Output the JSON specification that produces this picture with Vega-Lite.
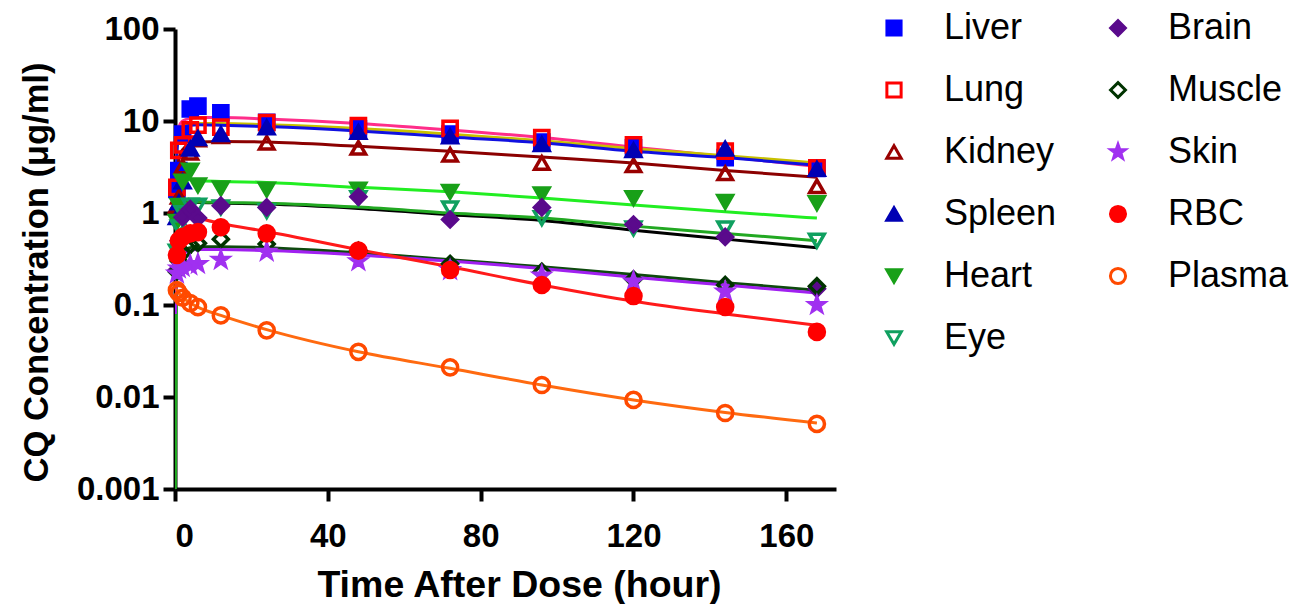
{
  "$schema": "https://vega.github.io/schema/vega-lite/v6.json",
  "autosize": "none",
  "width": 661,
  "height": 460,
  "padding": {"left": 175, "top": 29, "right": 454, "bottom": 115},
  "background": "white",
  "config": {
    "view": {"stroke": null},
    "axis": {
      "grid": false,
      "domainColor": "black",
      "domainWidth": 4,
      "tickColor": "black",
      "tickWidth": 4,
      "tickSize": 12,
      "labelFont": "Liberation Sans",
      "labelFontWeight": "bold",
      "labelFontSize": 33,
      "labelColor": "black",
      "titleFont": "Liberation Sans",
      "titleFontWeight": "bold",
      "titleColor": "black"
    },
    "legend": {
      "orient": "none",
      "legendX": 701,
      "legendY": -19,
      "columns": 2,
      "labelFont": "Liberation Sans",
      "labelFontSize": 36,
      "labelColor": "black",
      "rowPadding": 26,
      "columnPadding": 43,
      "labelOffset": 32,
      "symbolStrokeWidth": 3
    }
  },
  "datasets": {
    "fit": [
      {"curve": "Lung", "t": 0.1, "v": 1.5}, {"curve": "Lung", "t": 0.5, "v": 6}, {"curve": "Lung", "t": 1, "v": 8.5}, {"curve": "Lung", "t": 2, "v": 10}, {"curve": "Lung", "t": 4, "v": 10.7}, {"curve": "Lung", "t": 6, "v": 10.9}, {"curve": "Lung", "t": 12, "v": 10.9}, {"curve": "Lung", "t": 24, "v": 10.5}, {"curve": "Lung", "t": 48, "v": 9.4}, {"curve": "Lung", "t": 72, "v": 8.0}, {"curve": "Lung", "t": 96, "v": 6.6}, {"curve": "Lung", "t": 120, "v": 5.2}, {"curve": "Lung", "t": 144, "v": 4.1}, {"curve": "Lung", "t": 168, "v": 3.2},
      {"curve": "Spleen", "t": 0.1, "v": 1.2}, {"curve": "Spleen", "t": 0.5, "v": 5}, {"curve": "Spleen", "t": 1, "v": 7.5}, {"curve": "Spleen", "t": 2, "v": 8.8}, {"curve": "Spleen", "t": 4, "v": 9.3}, {"curve": "Spleen", "t": 6, "v": 9.4}, {"curve": "Spleen", "t": 12, "v": 9.4}, {"curve": "Spleen", "t": 24, "v": 9.1}, {"curve": "Spleen", "t": 48, "v": 8.3}, {"curve": "Spleen", "t": 72, "v": 7.2}, {"curve": "Spleen", "t": 96, "v": 6.1}, {"curve": "Spleen", "t": 120, "v": 5.0}, {"curve": "Spleen", "t": 144, "v": 4.2}, {"curve": "Spleen", "t": 168, "v": 3.5},
      {"curve": "Liver", "t": 0.1, "v": 1.0}, {"curve": "Liver", "t": 0.5, "v": 4.5}, {"curve": "Liver", "t": 1, "v": 7}, {"curve": "Liver", "t": 2, "v": 8.5}, {"curve": "Liver", "t": 4, "v": 9.0}, {"curve": "Liver", "t": 6, "v": 9.1}, {"curve": "Liver", "t": 12, "v": 9.0}, {"curve": "Liver", "t": 24, "v": 8.7}, {"curve": "Liver", "t": 48, "v": 7.8}, {"curve": "Liver", "t": 72, "v": 6.7}, {"curve": "Liver", "t": 96, "v": 5.8}, {"curve": "Liver", "t": 120, "v": 4.7}, {"curve": "Liver", "t": 144, "v": 4.0}, {"curve": "Liver", "t": 168, "v": 3.3},
      {"curve": "Kidney", "t": 0.1, "v": 0.5}, {"curve": "Kidney", "t": 0.5, "v": 2.5}, {"curve": "Kidney", "t": 1, "v": 3.8}, {"curve": "Kidney", "t": 2, "v": 4.9}, {"curve": "Kidney", "t": 4, "v": 5.6}, {"curve": "Kidney", "t": 6, "v": 5.9}, {"curve": "Kidney", "t": 12, "v": 6.0}, {"curve": "Kidney", "t": 24, "v": 5.9}, {"curve": "Kidney", "t": 48, "v": 5.3}, {"curve": "Kidney", "t": 72, "v": 4.7}, {"curve": "Kidney", "t": 96, "v": 4.05}, {"curve": "Kidney", "t": 120, "v": 3.5}, {"curve": "Kidney", "t": 144, "v": 2.9}, {"curve": "Kidney", "t": 168, "v": 2.45},
      {"curve": "Heart", "t": 0.02, "v": 0.001}, {"curve": "Heart", "t": 0.5, "v": 1.6}, {"curve": "Heart", "t": 1, "v": 2.1}, {"curve": "Heart", "t": 2, "v": 2.3}, {"curve": "Heart", "t": 4, "v": 2.3}, {"curve": "Heart", "t": 6, "v": 2.25}, {"curve": "Heart", "t": 12, "v": 2.2}, {"curve": "Heart", "t": 24, "v": 2.15}, {"curve": "Heart", "t": 48, "v": 1.9}, {"curve": "Heart", "t": 72, "v": 1.7}, {"curve": "Heart", "t": 96, "v": 1.46}, {"curve": "Heart", "t": 120, "v": 1.22}, {"curve": "Heart", "t": 144, "v": 1.03}, {"curve": "Heart", "t": 168, "v": 0.88},
      {"curve": "Brain", "t": 0.1, "v": 0.3}, {"curve": "Brain", "t": 0.5, "v": 0.85}, {"curve": "Brain", "t": 1, "v": 1.1}, {"curve": "Brain", "t": 2, "v": 1.25}, {"curve": "Brain", "t": 4, "v": 1.3}, {"curve": "Brain", "t": 6, "v": 1.3}, {"curve": "Brain", "t": 12, "v": 1.28}, {"curve": "Brain", "t": 24, "v": 1.25}, {"curve": "Brain", "t": 48, "v": 1.12}, {"curve": "Brain", "t": 72, "v": 0.96}, {"curve": "Brain", "t": 96, "v": 0.83}, {"curve": "Brain", "t": 120, "v": 0.65}, {"curve": "Brain", "t": 144, "v": 0.52}, {"curve": "Brain", "t": 168, "v": 0.42},
      {"curve": "Eye", "t": 0.02, "v": 0.001}, {"curve": "Eye", "t": 0.5, "v": 0.9}, {"curve": "Eye", "t": 1, "v": 1.15}, {"curve": "Eye", "t": 2, "v": 1.28}, {"curve": "Eye", "t": 4, "v": 1.32}, {"curve": "Eye", "t": 6, "v": 1.32}, {"curve": "Eye", "t": 12, "v": 1.3}, {"curve": "Eye", "t": 24, "v": 1.28}, {"curve": "Eye", "t": 48, "v": 1.16}, {"curve": "Eye", "t": 72, "v": 1.0}, {"curve": "Eye", "t": 96, "v": 0.88}, {"curve": "Eye", "t": 120, "v": 0.72}, {"curve": "Eye", "t": 144, "v": 0.6}, {"curve": "Eye", "t": 168, "v": 0.5},
      {"curve": "Muscle", "t": 0.1, "v": 0.1}, {"curve": "Muscle", "t": 0.5, "v": 0.25}, {"curve": "Muscle", "t": 1, "v": 0.33}, {"curve": "Muscle", "t": 2, "v": 0.39}, {"curve": "Muscle", "t": 4, "v": 0.42}, {"curve": "Muscle", "t": 6, "v": 0.43}, {"curve": "Muscle", "t": 12, "v": 0.43}, {"curve": "Muscle", "t": 24, "v": 0.42}, {"curve": "Muscle", "t": 48, "v": 0.37}, {"curve": "Muscle", "t": 72, "v": 0.31}, {"curve": "Muscle", "t": 96, "v": 0.26}, {"curve": "Muscle", "t": 120, "v": 0.215}, {"curve": "Muscle", "t": 144, "v": 0.175}, {"curve": "Muscle", "t": 168, "v": 0.145},
      {"curve": "Skin", "t": 0.1, "v": 0.08}, {"curve": "Skin", "t": 0.5, "v": 0.22}, {"curve": "Skin", "t": 1, "v": 0.3}, {"curve": "Skin", "t": 2, "v": 0.36}, {"curve": "Skin", "t": 4, "v": 0.39}, {"curve": "Skin", "t": 6, "v": 0.4}, {"curve": "Skin", "t": 12, "v": 0.4}, {"curve": "Skin", "t": 24, "v": 0.39}, {"curve": "Skin", "t": 48, "v": 0.35}, {"curve": "Skin", "t": 72, "v": 0.3}, {"curve": "Skin", "t": 96, "v": 0.25}, {"curve": "Skin", "t": 120, "v": 0.2}, {"curve": "Skin", "t": 144, "v": 0.165}, {"curve": "Skin", "t": 168, "v": 0.135},
      {"curve": "RBC", "t": 0.5, "v": 1.0}, {"curve": "RBC", "t": 1, "v": 1.0}, {"curve": "RBC", "t": 2, "v": 0.98}, {"curve": "RBC", "t": 4, "v": 0.92}, {"curve": "RBC", "t": 6, "v": 0.88}, {"curve": "RBC", "t": 12, "v": 0.77}, {"curve": "RBC", "t": 24, "v": 0.63}, {"curve": "RBC", "t": 48, "v": 0.4}, {"curve": "RBC", "t": 72, "v": 0.26}, {"curve": "RBC", "t": 96, "v": 0.165}, {"curve": "RBC", "t": 120, "v": 0.11}, {"curve": "RBC", "t": 144, "v": 0.08}, {"curve": "RBC", "t": 168, "v": 0.06},
      {"curve": "Plasma", "t": 0.25, "v": 0.15}, {"curve": "Plasma", "t": 0.5, "v": 0.145}, {"curve": "Plasma", "t": 1, "v": 0.135}, {"curve": "Plasma", "t": 2, "v": 0.122}, {"curve": "Plasma", "t": 4, "v": 0.105}, {"curve": "Plasma", "t": 6, "v": 0.095}, {"curve": "Plasma", "t": 12, "v": 0.077}, {"curve": "Plasma", "t": 24, "v": 0.054}, {"curve": "Plasma", "t": 48, "v": 0.031}, {"curve": "Plasma", "t": 72, "v": 0.0205}, {"curve": "Plasma", "t": 96, "v": 0.0135}, {"curve": "Plasma", "t": 120, "v": 0.0093}, {"curve": "Plasma", "t": 144, "v": 0.0068}, {"curve": "Plasma", "t": 168, "v": 0.0052}
    ],
    "pts": [
      {"tissue": "Liver", "t": 0.5, "v": 1.8}, {"tissue": "Liver", "t": 1, "v": 2.9}, {"tissue": "Liver", "t": 2, "v": 7.2}, {"tissue": "Liver", "t": 4, "v": 13.5}, {"tissue": "Liver", "t": 6, "v": 14.5}, {"tissue": "Liver", "t": 12, "v": 12.3}, {"tissue": "Liver", "t": 24, "v": 9.7}, {"tissue": "Liver", "t": 48, "v": 8.2}, {"tissue": "Liver", "t": 72, "v": 7.2}, {"tissue": "Liver", "t": 96, "v": 5.9}, {"tissue": "Liver", "t": 120, "v": 5.1}, {"tissue": "Liver", "t": 144, "v": 4.0}, {"tissue": "Liver", "t": 168, "v": 3.05},
      {"tissue": "Lung", "t": 0.5, "v": 1.9}, {"tissue": "Lung", "t": 1, "v": 4.8}, {"tissue": "Lung", "t": 2, "v": 5.5}, {"tissue": "Lung", "t": 4, "v": 8.0}, {"tissue": "Lung", "t": 6, "v": 9.0}, {"tissue": "Lung", "t": 12, "v": 8.6}, {"tissue": "Lung", "t": 24, "v": 9.6}, {"tissue": "Lung", "t": 48, "v": 8.9}, {"tissue": "Lung", "t": 72, "v": 8.3}, {"tissue": "Lung", "t": 96, "v": 6.6}, {"tissue": "Lung", "t": 120, "v": 5.5}, {"tissue": "Lung", "t": 144, "v": 4.7}, {"tissue": "Lung", "t": 168, "v": 3.1},
      {"tissue": "Kidney", "t": 0.5, "v": 1.2}, {"tissue": "Kidney", "t": 1, "v": 1.5}, {"tissue": "Kidney", "t": 2, "v": 3.2}, {"tissue": "Kidney", "t": 4, "v": 4.5}, {"tissue": "Kidney", "t": 6, "v": 6.3}, {"tissue": "Kidney", "t": 12, "v": 6.8}, {"tissue": "Kidney", "t": 24, "v": 5.8}, {"tissue": "Kidney", "t": 48, "v": 5.1}, {"tissue": "Kidney", "t": 72, "v": 4.3}, {"tissue": "Kidney", "t": 96, "v": 3.5}, {"tissue": "Kidney", "t": 120, "v": 3.3}, {"tissue": "Kidney", "t": 144, "v": 2.7}, {"tissue": "Kidney", "t": 168, "v": 1.95},
      {"tissue": "Spleen", "t": 0.5, "v": 0.9}, {"tissue": "Spleen", "t": 1, "v": 1.3}, {"tissue": "Spleen", "t": 2, "v": 2.2}, {"tissue": "Spleen", "t": 4, "v": 5.0}, {"tissue": "Spleen", "t": 6, "v": 6.5}, {"tissue": "Spleen", "t": 12, "v": 7.2}, {"tissue": "Spleen", "t": 24, "v": 8.5}, {"tissue": "Spleen", "t": 48, "v": 7.6}, {"tissue": "Spleen", "t": 72, "v": 6.8}, {"tissue": "Spleen", "t": 96, "v": 5.6}, {"tissue": "Spleen", "t": 120, "v": 4.8}, {"tissue": "Spleen", "t": 144, "v": 5.0}, {"tissue": "Spleen", "t": 168, "v": 3.0},
      {"tissue": "Heart", "t": 0.5, "v": 0.8}, {"tissue": "Heart", "t": 1, "v": 1.2}, {"tissue": "Heart", "t": 2, "v": 2.2}, {"tissue": "Heart", "t": 4, "v": 2.9}, {"tissue": "Heart", "t": 6, "v": 2.0}, {"tissue": "Heart", "t": 12, "v": 1.85}, {"tissue": "Heart", "t": 24, "v": 1.8}, {"tissue": "Heart", "t": 48, "v": 1.8}, {"tissue": "Heart", "t": 72, "v": 1.7}, {"tissue": "Heart", "t": 96, "v": 1.6}, {"tissue": "Heart", "t": 120, "v": 1.45}, {"tissue": "Heart", "t": 144, "v": 1.32}, {"tissue": "Heart", "t": 168, "v": 1.28},
      {"tissue": "Eye", "t": 0.5, "v": 0.38}, {"tissue": "Eye", "t": 1, "v": 0.7}, {"tissue": "Eye", "t": 2, "v": 1.0}, {"tissue": "Eye", "t": 4, "v": 1.2}, {"tissue": "Eye", "t": 6, "v": 1.2}, {"tissue": "Eye", "t": 12, "v": 1.15}, {"tissue": "Eye", "t": 24, "v": 1.05}, {"tissue": "Eye", "t": 48, "v": 1.45}, {"tissue": "Eye", "t": 72, "v": 1.12}, {"tissue": "Eye", "t": 96, "v": 0.88}, {"tissue": "Eye", "t": 120, "v": 0.68}, {"tissue": "Eye", "t": 144, "v": 0.68}, {"tissue": "Eye", "t": 168, "v": 0.5},
      {"tissue": "Brain", "t": 0.5, "v": 0.24}, {"tissue": "Brain", "t": 1, "v": 0.5}, {"tissue": "Brain", "t": 2, "v": 0.9}, {"tissue": "Brain", "t": 4, "v": 1.1}, {"tissue": "Brain", "t": 6, "v": 0.88}, {"tissue": "Brain", "t": 12, "v": 1.2}, {"tissue": "Brain", "t": 24, "v": 1.15}, {"tissue": "Brain", "t": 48, "v": 1.5}, {"tissue": "Brain", "t": 72, "v": 0.85}, {"tissue": "Brain", "t": 96, "v": 1.15}, {"tissue": "Brain", "t": 120, "v": 0.75}, {"tissue": "Brain", "t": 144, "v": 0.55}, {"tissue": "Brain", "t": 168, "v": 0.15},
      {"tissue": "Muscle", "t": 0.5, "v": 0.23}, {"tissue": "Muscle", "t": 1, "v": 0.3}, {"tissue": "Muscle", "t": 2, "v": 0.37}, {"tissue": "Muscle", "t": 4, "v": 0.45}, {"tissue": "Muscle", "t": 6, "v": 0.47}, {"tissue": "Muscle", "t": 12, "v": 0.52}, {"tissue": "Muscle", "t": 24, "v": 0.46}, {"tissue": "Muscle", "t": 48, "v": 0.39}, {"tissue": "Muscle", "t": 72, "v": 0.28}, {"tissue": "Muscle", "t": 96, "v": 0.23}, {"tissue": "Muscle", "t": 120, "v": 0.19}, {"tissue": "Muscle", "t": 144, "v": 0.165}, {"tissue": "Muscle", "t": 168, "v": 0.16},
      {"tissue": "Skin", "t": 0.5, "v": 0.22}, {"tissue": "Skin", "t": 1, "v": 0.25}, {"tissue": "Skin", "t": 2, "v": 0.26}, {"tissue": "Skin", "t": 4, "v": 0.27}, {"tissue": "Skin", "t": 6, "v": 0.28}, {"tissue": "Skin", "t": 12, "v": 0.31}, {"tissue": "Skin", "t": 24, "v": 0.38}, {"tissue": "Skin", "t": 48, "v": 0.3}, {"tissue": "Skin", "t": 72, "v": 0.24}, {"tissue": "Skin", "t": 96, "v": 0.21}, {"tissue": "Skin", "t": 120, "v": 0.18}, {"tissue": "Skin", "t": 144, "v": 0.14}, {"tissue": "Skin", "t": 168, "v": 0.1},
      {"tissue": "RBC", "t": 0.5, "v": 0.35}, {"tissue": "RBC", "t": 1, "v": 0.5}, {"tissue": "RBC", "t": 2, "v": 0.55}, {"tissue": "RBC", "t": 4, "v": 0.6}, {"tissue": "RBC", "t": 6, "v": 0.62}, {"tissue": "RBC", "t": 12, "v": 0.7}, {"tissue": "RBC", "t": 24, "v": 0.6}, {"tissue": "RBC", "t": 48, "v": 0.39}, {"tissue": "RBC", "t": 72, "v": 0.24}, {"tissue": "RBC", "t": 96, "v": 0.165}, {"tissue": "RBC", "t": 120, "v": 0.125}, {"tissue": "RBC", "t": 144, "v": 0.095}, {"tissue": "RBC", "t": 168, "v": 0.051},
      {"tissue": "Plasma", "t": 0.5, "v": 0.145}, {"tissue": "Plasma", "t": 1, "v": 0.135}, {"tissue": "Plasma", "t": 2, "v": 0.12}, {"tissue": "Plasma", "t": 4, "v": 0.105}, {"tissue": "Plasma", "t": 6, "v": 0.095}, {"tissue": "Plasma", "t": 12, "v": 0.077}, {"tissue": "Plasma", "t": 24, "v": 0.053}, {"tissue": "Plasma", "t": 48, "v": 0.031}, {"tissue": "Plasma", "t": 72, "v": 0.021}, {"tissue": "Plasma", "t": 96, "v": 0.0135}, {"tissue": "Plasma", "t": 120, "v": 0.0093}, {"tissue": "Plasma", "t": 144, "v": 0.0067}, {"tissue": "Plasma", "t": 168, "v": 0.0051}
    ]
  },
  "encoding": {
    "x": {
      "field": "t",
      "type": "quantitative",
      "scale": {"domain": [0, 173], "nice": false, "zero": false},
      "axis": {"values": [0, 40, 80, 120, 160], "title": "Time After Dose (hour)", "labelPadding": 19, "titlePadding": 13, "titleFontSize": 37.5, "titleX": 344}
    },
    "y": {
      "field": "v",
      "type": "quantitative",
      "scale": {"type": "log", "domain": [0.001, 100], "nice": false},
      "axis": {"values": [0.001, 0.01, 0.1, 1, 10, 100], "format": "~g", "title": "CQ Concentration (μg/ml)", "labelPadding": 4, "titlePadding": 22, "titleFontSize": 34.5, "titleY": 243}
    }
  },
  "layer": [
    {
      "data": {"name": "fit"},
      "mark": {"type": "line", "strokeWidth": 3, "interpolate": "monotone", "clip": true},
      "encoding": {
        "detail": {"field": "curve"},
        "color": {
          "field": "curve",
          "type": "nominal",
          "legend": null,
          "scale": {
            "domain": ["Lung", "Spleen", "Liver", "Kidney", "Heart", "Brain", "Eye", "Muscle", "Skin", "RBC", "Plasma"],
            "range": ["#FF2D8A", "#C8C000", "#1010E0", "#8B0000", "#22EE22", "#000000", "#22A822", "#0E4A0E", "#A020F0", "#FF1A1A", "#FF6A10"]
          }
        }
      }
    },
    {
      "data": {"name": "pts"},
      "mark": {"type": "point", "strokeWidth": 3.5, "opacity": 1, "fillOpacity": 1, "strokeOpacity": 1},
      "encoding": {
        "shape": {
          "field": "tissue", "type": "nominal", "title": null,
          "scale": {
            "domain": ["Liver", "Lung", "Kidney", "Spleen", "Heart", "Eye", "Brain", "Muscle", "Skin", "RBC", "Plasma"],
            "range": ["square", "square", "triangle-up", "triangle-up", "triangle-down", "triangle-down", "diamond", "diamond", "M0,-1L0.235,-0.324L0.951,-0.309L0.38,0.124L0.588,0.809L0,0.4L-0.588,0.809L-0.38,0.124L-0.951,-0.309L-0.235,-0.324Z", "circle", "circle"]
          }
        },
        "fill": {
          "field": "tissue", "type": "nominal", "title": null,
          "scale": {
            "domain": ["Liver", "Lung", "Kidney", "Spleen", "Heart", "Eye", "Brain", "Muscle", "Skin", "RBC", "Plasma"],
            "range": ["#0000FF", "transparent", "transparent", "#0000B4", "#18A018", "transparent", "#5A0A8C", "transparent", "#A030F0", "#FF0000", "transparent"]
          }
        },
        "stroke": {
          "field": "tissue", "type": "nominal", "title": null,
          "scale": {
            "domain": ["Liver", "Lung", "Kidney", "Spleen", "Heart", "Eye", "Brain", "Muscle", "Skin", "RBC", "Plasma"],
            "range": ["#0000FF", "#FF0000", "#990000", "#0000B4", "#18A018", "#10A060", "#5A0A8C", "#003300", "#A030F0", "#FF0000", "#FF4A00"]
          }
        },
        "size": {
          "field": "tissue", "type": "nominal", "title": null,
          "scale": {
            "domain": ["Liver", "Lung", "Kidney", "Spleen", "Heart", "Eye", "Brain", "Muscle", "Skin", "RBC", "Plasma"],
            "range": [200, 230, 210, 140, 150, 210, 120, 160, 75, 170, 190]
          }
        }
      }
    }
  ]
}
